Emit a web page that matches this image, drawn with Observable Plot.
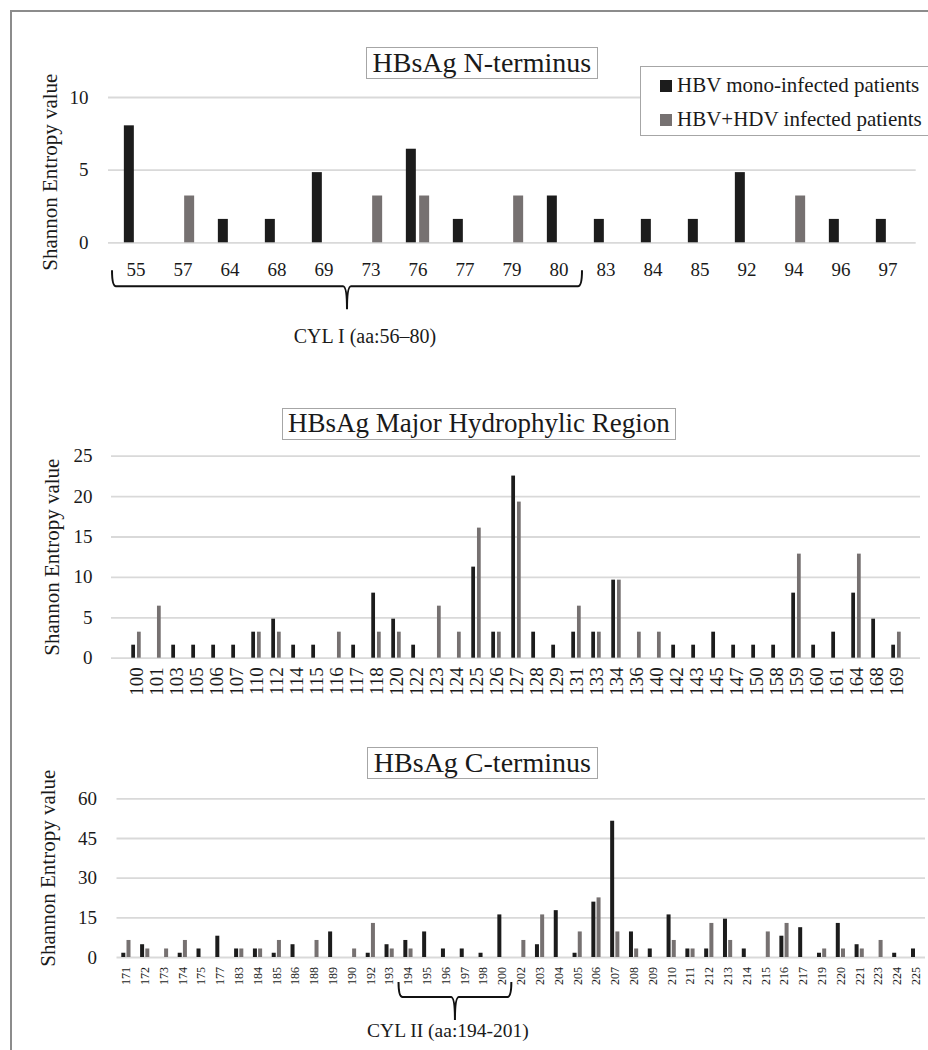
<!DOCTYPE html>
<html>
<head>
<meta charset="utf-8">
<script src="https://cdn.jsdelivr.net/npm/d3@7"></script>
<script src="https://cdn.jsdelivr.net/npm/@observablehq/plot@0.6"></script>
<style>
  body { margin: 0; background: #fff; overflow: hidden; font-family: "Liberation Serif", serif; color: #1a1a1a; }
  #page { position: relative; width: 928px; height: 1050px; overflow: hidden; background: #fff; }
  .frame { position: absolute; left: 10px; top: 10px; width: 1000px; height: 1100px; border: 2px solid #8c8c8c; box-sizing: border-box; }
  #page svg, #page svg text { font-family: "Liberation Serif", serif !important; }
  .title { position: absolute; z-index: 2; background: #fff; border: 1.5px solid #a6a6a6; box-sizing: border-box;
           font-size: 28px; line-height: 1; display: flex; align-items: center; justify-content: center; white-space: nowrap; }
  .legend { position: absolute; z-index: 2; left: 640px; top: 66px; width: 320px; height: 70px; background: #fff;
            border: 1.5px solid #a6a6a6; box-sizing: border-box; }
  .legend .item { position: absolute; left: 19px; font-size: 21px; line-height: 1; white-space: nowrap; }
  .legend .sw { display: inline-block; width: 12px; height: 12px; margin-right: 5px; vertical-align: baseline; }
</style>
</head>
<body>
<div id="page">
  <div class="frame"></div>
</div>
<script>
// ---------- data ----------
const seriesNames = ["HBV mono-infected patients", "HBV+HDV infected patients"];
const yLabel = "Shannon Entropy value";

// Panel 1: HBsAg N-terminus
const title1 = "HBsAg N-terminus";
const pos1 = ["55","57","64","68","69","73","76","77","79","80","83","84","85","92","94","96","97"];
const mono1 = [8.05,0,1.61,1.61,4.83,0,6.44,1.61,0,3.22,1.61,1.61,1.61,4.83,0,1.61,1.61];
const hdv1  = [0,3.22,0,0,0,3.22,3.22,0,3.22,0,0,0,0,0,3.22,0,0];
const yTicks1 = [0, 5, 10];
const brace1 = {from: "55", to: "80", label: "CYL I (aa:56–80)"};

// Panel 2: HBsAg Major Hydrophylic Region
const title2 = "HBsAg Major Hydrophylic Region";
const pos2 = ["100","101","103","105","106","107","110","112","114","115","116","117","118","120","122","123","124","125","126","127","128","129","131","133","134","136","140","142","143","145","147","150","158","159","160","161","164","168","169"];
const mono2 = [1.61,0,1.61,1.61,1.61,1.61,3.22,4.83,1.61,1.61,0,1.61,8.05,4.83,1.61,0,0,11.27,3.22,22.54,3.22,1.61,3.22,3.22,9.66,0,0,1.61,1.61,3.22,1.61,1.61,1.61,8.05,1.61,3.22,8.05,4.83,1.61];
const hdv2  = [3.22,6.44,0,0,0,0,3.22,3.22,0,0,3.22,0,3.22,3.22,0,6.44,3.22,16.1,3.22,19.32,0,0,6.44,3.22,9.66,3.22,3.22,0,0,0,0,0,0,12.88,0,0,12.88,0,3.22];
const yTicks2 = [0, 5, 10, 15, 20, 25];

// Panel 3: HBsAg C-terminus
const title3 = "HBsAg C-terminus";
const pos3 = ["171","172","173","174","175","177","183","184","185","186","188","189","190","192","193","194","195","196","197","198","200","202","203","204","205","206","207","208","209","210","211","212","213","214","215","216","217","219","220","221","223","224","225"];
const mono3 = [1.61,4.83,0,1.61,3.22,8.05,3.22,3.22,1.61,4.83,0,9.66,0,1.61,4.83,6.44,9.66,3.22,3.22,1.61,16.1,0,4.83,17.71,1.61,20.93,51.52,9.66,3.22,16.1,3.22,3.22,14.49,3.22,0,8.05,11.27,1.61,12.88,4.83,0,1.61,3.22];
const hdv3  = [6.44,3.22,3.22,6.44,0,0,3.22,3.22,6.44,0,6.44,0,3.22,12.88,3.22,3.22,0,0,0,0,0,6.44,16.1,0,9.66,22.54,9.66,3.22,0,6.44,3.22,12.88,6.44,0,9.66,12.88,0,3.22,3.22,3.22,6.44,0,0];
const yTicks3 = [0, 15, 30, 45, 60];
const brace3 = {from: "194", to: "200", label: "CYL II (aa:194-201)"};

// ---------- styling ----------
const FONT = "Liberation Serif, serif";
const MONO = "#1c1c1c";
const HDV = "#767171";
const GRID = "#d9d9d9";
const W = 928;

const page = document.getElementById("page");

function panel(cfg) {
  const rows = cfg.pos.map((p, i) => ({pos: p, mono: cfg.mono[i], hdv: cfg.hdv[i]}));
  const bw = (W - cfg.ml - cfg.mr) / cfg.pos.length;
  const plot = Plot.plot({
    width: W,
    height: cfg.height,
    marginTop: cfg.mt,
    marginBottom: cfg.mb,
    marginLeft: cfg.ml,
    marginRight: cfg.mr,
    style: {fontFamily: FONT, fontSize: "19px", color: "#1a1a1a", background: "transparent", overflow: "visible"},
    x: {type: "band", domain: cfg.pos, padding: 0},
    y: {domain: [0, cfg.yTicks[cfg.yTicks.length - 1]]},
    marks: [
      Plot.ruleY(cfg.yTicks, {stroke: GRID, strokeWidth: 1.8}),
      Plot.barY(rows.filter(d => d.mono > 0), {x: "pos", y: "mono", fill: MONO,
        insetLeft: bw / 2 - cfg.gap / 2 - cfg.barW, insetRight: bw / 2 + cfg.gap / 2}),
      Plot.barY(rows.filter(d => d.hdv > 0), {x: "pos", y: "hdv", fill: HDV,
        insetLeft: bw / 2 + cfg.gap / 2, insetRight: bw / 2 - cfg.gap / 2 - cfg.barW}),
      Plot.axisY(cfg.yTicks, {tickSize: 0, tickPadding: cfg.yPad, label: null, fontSize: 19, fontFamily: FONT}),
      Plot.axisX({tickSize: 0, tickPadding: cfg.xPad, tickRotate: cfg.rotate, label: null, fontSize: cfg.xFont, fontFamily: FONT}),
      Plot.text([yLabel], {text: d => d, frameAnchor: "left", textAnchor: "middle", rotate: -90,
        dx: cfg.ylDx, dy: cfg.ylDy, fontSize: 21, fontFamily: FONT})
    ]
  });
  plot.setAttribute("font-family", FONT);
  plot.style.position = "absolute";
  plot.style.left = "0px";
  plot.style.top = cfg.top + "px";
  plot.style.zIndex = 1;
  page.appendChild(plot);

  if (cfg.brace) {
    const xs = plot.scale("x");
    const x0 = xs.apply(cfg.brace.from);
    const x1 = xs.apply(cfg.brace.to) + xs.bandwidth;
    const xm = (x0 + x1) / 2;
    const y0 = cfg.height - cfg.mb;
    const b = cfg.braceY;
    const yTop = y0 + b.top, yLine = y0 + b.line, yTip = y0 + b.tip;
    const r = 4;
    const path = `M${x0},${yTop} Q${x0},${yLine} ${x0 + r},${yLine} L${xm - r},${yLine} Q${xm},${yLine} ${xm},${yTip} ` +
                 `M${xm},${yTip} Q${xm},${yLine} ${xm + r},${yLine} L${x1 - r},${yLine} Q${x1},${yLine} ${x1},${yTop}`;
    const svg = d3.select(plot);
    svg.append("path").attr("d", path).attr("fill", "none").attr("stroke", "#111").attr("stroke-width", 2);
    svg.append("text").attr("x", xm + b.labelDx).attr("y", y0 + b.label)
      .attr("text-anchor", "middle").attr("font-size", b.fontSize).attr("font-family", FONT).attr("fill", "#1a1a1a")
      .text(cfg.brace.label);
  }
  return plot;
}

function titleBox(text, left, top, width, height, size) {
  const d = document.createElement("div");
  d.className = "title";
  d.style.left = left + "px"; d.style.top = top + "px";
  d.style.width = width + "px"; d.style.height = height + "px";
  d.style.fontSize = size + "px";
  d.textContent = text;
  page.appendChild(d);
}

panel({pos: pos1, mono: mono1, hdv: hdv1, yTicks: yTicks1, top: 80, height: 280, mt: 17, mb: 117.7, ml: 108, mr: 12.3,
  barW: 10.5, gap: 2.8, yPad: 20, xPad: 20, rotate: 0, xFont: 19, ylDx: -58, ylDy: 2,
  brace: brace1, braceY: {top: 28, line: 44, tip: 67, label: 101, labelDx: 18, fontSize: 20}});

panel({pos: pos2, mono: mono2, hdv: hdv2, yTicks: yTicks2, top: 440, height: 260, mt: 15.7, mb: 42.3, ml: 111, mr: 8,
  barW: 4.5, gap: 1.2, yPad: 19, xPad: 9, rotate: -90, xFont: 19, ylDx: -59.5, ylDy: 0});

panel({pos: pos3, mono: mono3, hdv: hdv3, yTicks: yTicks3, top: 780, height: 270, mt: 18.3, mb: 93, ml: 116.5, mr: 3,
  barW: 4, gap: 1.2, yPad: 20, xPad: 9.5, rotate: -90, xFont: 12, ylDx: -69, ylDy: -10,
  brace: brace3, braceY: {top: 25, line: 40, tip: 63, label: 79.7, labelDx: -7, fontSize: 19.5}});

titleBox(title1, 365.7, 46.7, 232.3, 32.3, 28);
titleBox(title2, 281.7, 407.7, 394.3, 32.3, 27);
titleBox(title3, 367, 746.7, 230.7, 32.3, 28);

// legend
const legend = document.createElement("div");
legend.className = "legend";
[[seriesNames[0], MONO, 8], [seriesNames[1], HDV, 42]].forEach(([name, color, top]) => {
  const it = document.createElement("div");
  it.className = "item";
  it.style.top = top + "px";
  const sw = document.createElement("span");
  sw.className = "sw"; sw.style.background = color;
  it.appendChild(sw);
  it.appendChild(document.createTextNode(name));
  legend.appendChild(it);
});
page.appendChild(legend);
</script>
</body>
</html>
